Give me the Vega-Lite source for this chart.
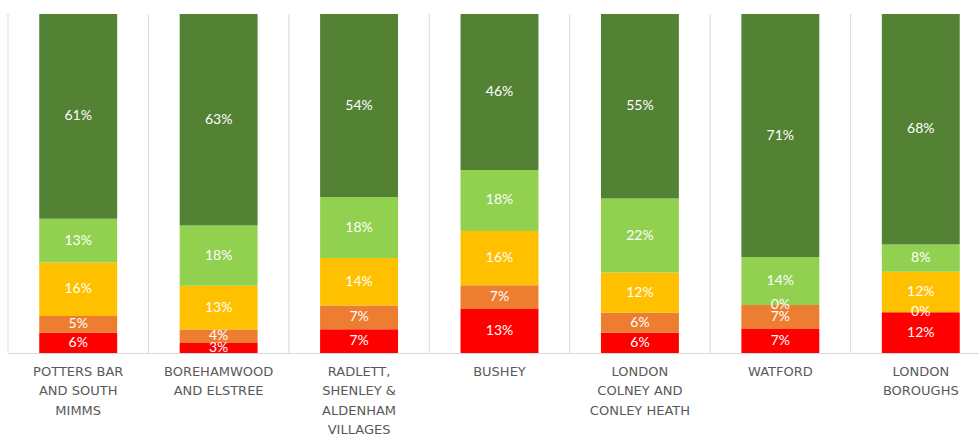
{
  "$schema": "https://vega.github.io/schema/vega-lite/v6.json",
  "width": 983,
  "height": 339,
  "autosize": {"type": "none"},
  "padding": {"left": 8, "top": 14, "right": 0, "bottom": 86},
  "background": "white",
  "config": {"view": {"stroke": null}},
  "data": {
    "values": [
      {"area": "POTTERS BAR|AND SOUTH|MIMMS", "level": "L1", "order": 1, "value": 6},
      {"area": "POTTERS BAR|AND SOUTH|MIMMS", "level": "L2", "order": 2, "value": 5},
      {"area": "POTTERS BAR|AND SOUTH|MIMMS", "level": "L3", "order": 3, "value": 16},
      {"area": "POTTERS BAR|AND SOUTH|MIMMS", "level": "L4", "order": 4, "value": 13},
      {"area": "POTTERS BAR|AND SOUTH|MIMMS", "level": "L5", "order": 5, "value": 61},
      {"area": "BOREHAMWOOD|AND ELSTREE", "level": "L1", "order": 1, "value": 3},
      {"area": "BOREHAMWOOD|AND ELSTREE", "level": "L2", "order": 2, "value": 4},
      {"area": "BOREHAMWOOD|AND ELSTREE", "level": "L3", "order": 3, "value": 13},
      {"area": "BOREHAMWOOD|AND ELSTREE", "level": "L4", "order": 4, "value": 18},
      {"area": "BOREHAMWOOD|AND ELSTREE", "level": "L5", "order": 5, "value": 63},
      {"area": "RADLETT,|SHENLEY &|ALDENHAM|VILLAGES", "level": "L1", "order": 1, "value": 7},
      {"area": "RADLETT,|SHENLEY &|ALDENHAM|VILLAGES", "level": "L2", "order": 2, "value": 7},
      {"area": "RADLETT,|SHENLEY &|ALDENHAM|VILLAGES", "level": "L3", "order": 3, "value": 14},
      {"area": "RADLETT,|SHENLEY &|ALDENHAM|VILLAGES", "level": "L4", "order": 4, "value": 18},
      {"area": "RADLETT,|SHENLEY &|ALDENHAM|VILLAGES", "level": "L5", "order": 5, "value": 54},
      {"area": "BUSHEY", "level": "L1", "order": 1, "value": 13},
      {"area": "BUSHEY", "level": "L2", "order": 2, "value": 7},
      {"area": "BUSHEY", "level": "L3", "order": 3, "value": 16},
      {"area": "BUSHEY", "level": "L4", "order": 4, "value": 18},
      {"area": "BUSHEY", "level": "L5", "order": 5, "value": 46},
      {"area": "LONDON|COLNEY AND|CONLEY HEATH", "level": "L1", "order": 1, "value": 6},
      {"area": "LONDON|COLNEY AND|CONLEY HEATH", "level": "L2", "order": 2, "value": 6},
      {"area": "LONDON|COLNEY AND|CONLEY HEATH", "level": "L3", "order": 3, "value": 12},
      {"area": "LONDON|COLNEY AND|CONLEY HEATH", "level": "L4", "order": 4, "value": 22},
      {"area": "LONDON|COLNEY AND|CONLEY HEATH", "level": "L5", "order": 5, "value": 55},
      {"area": "WATFORD", "level": "L1", "order": 1, "value": 7},
      {"area": "WATFORD", "level": "L2", "order": 2, "value": 7},
      {"area": "WATFORD", "level": "L3", "order": 3, "value": 0},
      {"area": "WATFORD", "level": "L4", "order": 4, "value": 14},
      {"area": "WATFORD", "level": "L5", "order": 5, "value": 71},
      {"area": "LONDON|BOROUGHS", "level": "L1", "order": 1, "value": 12},
      {"area": "LONDON|BOROUGHS", "level": "L2", "order": 2, "value": 0},
      {"area": "LONDON|BOROUGHS", "level": "L3", "order": 3, "value": 12},
      {"area": "LONDON|BOROUGHS", "level": "L4", "order": 4, "value": 8},
      {"area": "LONDON|BOROUGHS", "level": "L5", "order": 5, "value": 68}
    ]
  },
  "transform": [
    {"stack": "value", "groupby": ["area"], "sort": [{"field": "order"}], "offset": "normalize", "as": ["y0", "y1"]},
    {"calculate": "(datum.y0 + datum.y1) / 2", "as": "ymid"},
    {"calculate": "datum.value + '%'", "as": "label"}
  ],
  "encoding": {
    "x": {
      "field": "area",
      "type": "nominal",
      "sort": null,
      "scale": {"paddingInner": 0.445, "paddingOuter": 0.2225},
      "axis": {
        "title": null,
        "labelAngle": 0,
        "labelExpr": "split(datum.label, '|')",
        "labelFont": "DejaVu Sans",
        "labelFontSize": 13,
        "labelColor": "#595959",
        "labelLineHeight": 19.5,
        "labelPadding": 12,
        "labelBaseline": "top",
        "labelLimit": 300,
        "ticks": false,
        "domainColor": "#d9d9d9",
        "domainWidth": 1,
        "grid": false
      }
    }
  },
  "layer": [
    {
      "transform": [{"filter": "datum.order == 1"}],
      "mark": {"type": "rule", "color": "#d9d9d9", "strokeWidth": 1, "xOffset": -70.2},
      "encoding": {
        "x": {"field": "area", "type": "nominal", "sort": null}
      }
    },
    {
      "mark": {"type": "bar"},
      "encoding": {
        "y": {"field": "y0", "type": "quantitative", "scale": {"domain": [0, 1]}, "axis": null},
        "y2": {"field": "y1"},
        "color": {
          "field": "level",
          "type": "nominal",
          "scale": {"domain": ["L1", "L2", "L3", "L4", "L5"], "range": ["#FF0000", "#ED7D31", "#FFC000", "#92D050", "#548235"]},
          "legend": null
        }
      }
    },
    {
      "mark": {"type": "text", "color": "white", "font": "Lato", "fontSize": 14, "baseline": "middle"},
      "encoding": {
        "y": {"field": "ymid", "type": "quantitative", "scale": {"domain": [0, 1]}, "axis": null},
        "text": {"field": "label", "type": "nominal"}
      }
    }
  ]
}
